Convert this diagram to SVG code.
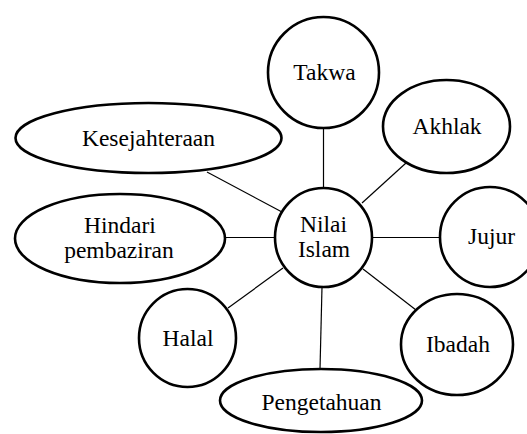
<svg xmlns="http://www.w3.org/2000/svg" width="527" height="434" viewBox="0 0 527 434">
<style>
.n ellipse{fill:#fff;stroke:#000;stroke-width:2.6}
.n text{font-family:'Liberation Serif','Times New Roman',Times,serif;font-size:23.5px;fill:#000;text-anchor:middle}
#connectors line{stroke:#000;stroke-width:1.2}
</style>
<rect width="527" height="434" fill="#fff"/>
<g id="connectors">
<line x1="323.5" y1="128" x2="323.5" y2="188"/>
<line x1="406" y1="163" x2="362" y2="203"/>
<line x1="207" y1="172" x2="282" y2="212"/>
<line x1="225" y1="237.5" x2="275" y2="237.5"/>
<line x1="372" y1="237.5" x2="440" y2="237.5"/>
<line x1="228" y1="308" x2="283" y2="268"/>
<line x1="322" y1="287" x2="320" y2="369"/>
<line x1="363" y1="269" x2="416" y2="310"/>
</g>
<g id="takwa" class="n"><ellipse cx="323.5" cy="72.5" rx="55.5" ry="55.5"/><text x="324.5" y="80" font-family="Liberation Serif, serif">Takwa</text></g>
<g id="akhlak" class="n"><ellipse cx="446.5" cy="126.5" rx="63.5" ry="46.5"/><text x="447" y="134">Akhlak</text></g>
<g id="kesejahteraan" class="n"><ellipse cx="148.5" cy="138" rx="133" ry="35"/><text x="148.5" y="146">Kesejahteraan</text></g>
<g id="nilai-islam" class="n"><ellipse cx="323.5" cy="237.5" rx="48.5" ry="49.5"/><text x="323.5" y="232">Nilai</text><text x="324" y="257">Islam</text></g>
<g id="hindari" class="n"><ellipse cx="120" cy="238.5" rx="105" ry="44.5"/><text x="120" y="233">Hindari</text><text x="119" y="258">pembaziran</text></g>
<g id="jujur" class="n"><ellipse cx="490" cy="237" rx="50" ry="50"/><text x="491.5" y="244">Jujur</text></g>
<g id="halal" class="n"><ellipse cx="187.5" cy="338" rx="48.5" ry="49"/><text x="188" y="346">Halal</text></g>
<g id="ibadah" class="n"><ellipse cx="457" cy="344.5" rx="56" ry="50.5"/><text x="458" y="352">Ibadah</text></g>
<g id="pengetahuan" class="n"><ellipse cx="321" cy="400.5" rx="101" ry="31.5"/><text x="321.5" y="410">Pengetahuan</text></g>
</svg>
